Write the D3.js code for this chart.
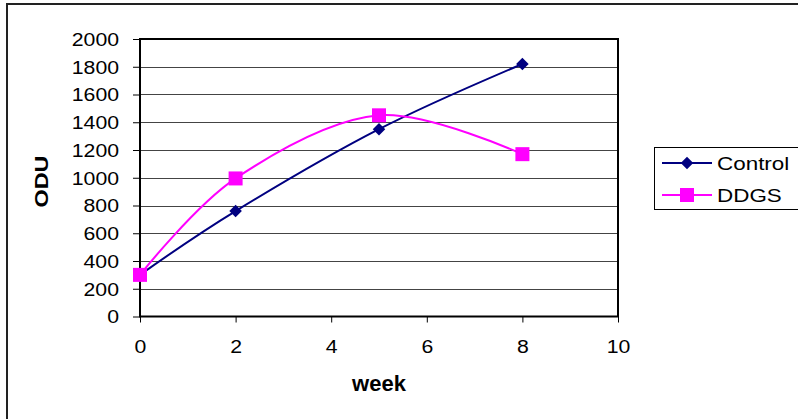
<!DOCTYPE html>
<html>
<head>
<meta charset="utf-8">
<script src="https://cdn.jsdelivr.net/npm/d3@7"></script>
<style>
  html, body { margin: 0; padding: 0; background: #fff; }
  svg { display: block; font-family: "Liberation Sans", Arial, sans-serif; }
</style>
</head>
<body>
<svg id="chart" width="798" height="419"></svg>
<script>
// Weeks sampled and ODU readings for each diet
const weeks = [0, 2, 5, 8];
const controlValues = [300, 760, 1350, 1820];
const ddgsValues = [300, 995, 1450, 1170];
const seriesNames = ["Control", "DDGS"];
const seriesColors = ["#000080", "#FF00FF"];
const xTicks = [0, 2, 4, 6, 8, 10];
const yTicks = [0, 200, 400, 600, 800, 1000, 1200, 1400, 1600, 1800, 2000];

const svg = d3.select("#chart");
const plot = { left: 140, top: 39, right: 618, bottom: 316.5 };
const FONT = "Liberation Sans, Arial, sans-serif";

const x = d3.scaleLinear().domain([0, 10]).range([plot.left, plot.right]);
const y = d3.scaleLinear().domain([0, 2000]).range([plot.bottom, plot.top]);

// widen text horizontally by a factor, keeping its anchor
function widen(sel, factor) {
  sel.each(function () {
    const w = this.getComputedTextLength();
    d3.select(this).attr("textLength", w * factor).attr("lengthAdjust", "spacingAndGlyphs");
  });
}

// outer chart frame (runs off the right and bottom edges)
svg.append("rect")
  .attr("x", 7).attr("y", 4).attr("width", 830).attr("height", 460)
  .attr("fill", "none").attr("stroke", "#222").attr("stroke-width", 2);

// horizontal gridlines
svg.append("g").selectAll("line").data(yTicks.filter(d => d > 0)).join("line")
  .attr("x1", plot.left).attr("x2", plot.right)
  .attr("y1", d => Math.round(y(d)) + 0.5).attr("y2", d => Math.round(y(d)) + 0.5)
  .attr("stroke", "#444").attr("stroke-width", 1);

// y axis
const yAxis = svg.append("g")
  .attr("transform", `translate(${plot.left},0)`)
  .call(d3.axisLeft(y).tickValues(yTicks).tickSize(7).tickPadding(14).tickFormat(d3.format("d")));
yAxis.select(".domain").remove();
yAxis.selectAll("line").attr("stroke", "#000");
yAxis.selectAll("text").attr("font-size", 18).attr("fill", "#000").attr("font-family", FONT)
  .attr("dy", "0.36em").call(widen, 1.18);

// x axis
const xAxis = svg.append("g")
  .attr("transform", `translate(0,${plot.bottom})`)
  .call(d3.axisBottom(x).tickValues(xTicks).tickSize(6).tickPadding(18).tickFormat(d3.format("d")));
xAxis.select(".domain").remove();
xAxis.selectAll("line").attr("stroke", "#000");
xAxis.selectAll("text").attr("font-size", 18).attr("fill", "#000").attr("font-family", FONT)
  .call(widen, 1.18);

// plot area border
svg.append("rect")
  .attr("x", plot.left).attr("y", plot.top)
  .attr("width", plot.right - plot.left).attr("height", plot.bottom - plot.top)
  .attr("fill", "none").attr("stroke", "#000").attr("stroke-width", 2);

// axis titles
svg.append("text").attr("x", x(5)).attr("y", 391)
  .attr("text-anchor", "middle").attr("font-size", 22).attr("font-weight", "bold")
  .text("week");
svg.append("text")
  .attr("transform", "translate(48,181.5) rotate(-90)")
  .attr("text-anchor", "middle").attr("font-size", 18).attr("font-weight", "bold")
  .text("ODU").call(widen, 1.3);

// smoothed series lines
const line = d3.line()
  .x(d => x(d[0])).y(d => y(d[1]))
  .curve(d3.curveCatmullRom.alpha(0));

const seriesData = [controlValues, ddgsValues].map(v => weeks.map((w, i) => [w, v[i]]));

const diamond = d3.symbol().type(d3.symbolDiamond2).size(100);

seriesData.forEach((pts, si) => {
  svg.append("path").datum(pts)
    .attr("d", line).attr("fill", "none")
    .attr("stroke", seriesColors[si]).attr("stroke-width", 2);
});

// markers
svg.append("g").selectAll("path").data(seriesData[0]).join("path")
  .attr("transform", d => `translate(${x(d[0])},${y(d[1])})`)
  .attr("d", diamond).attr("fill", seriesColors[0]);
svg.append("g").selectAll("rect").data(seriesData[1]).join("rect")
  .attr("x", d => x(d[0]) - 7).attr("y", d => y(d[1]) - 7)
  .attr("width", 14).attr("height", 14).attr("fill", seriesColors[1]);

// legend
const legend = svg.append("g");
legend.append("rect").attr("x", 654.5).attr("y", 147.5).attr("width", 160).attr("height", 62)
  .attr("fill", "#fff").attr("stroke", "#000").attr("stroke-width", 1);
seriesNames.forEach((name, i) => {
  const ly = 163 + i * 32;
  legend.append("line").attr("x1", 662).attr("x2", 712).attr("y1", ly).attr("y2", ly)
    .attr("stroke", seriesColors[i]).attr("stroke-width", 2);
  if (i === 0) {
    legend.append("path").attr("transform", `translate(687,${ly})`)
      .attr("d", diamond).attr("fill", seriesColors[i]);
  } else {
    legend.append("rect").attr("x", 680).attr("y", ly - 7).attr("width", 14).attr("height", 14)
      .attr("fill", seriesColors[i]);
  }
  legend.append("text").attr("x", 717).attr("y", ly + 6.5)
    .attr("font-size", 19).attr("fill", "#000").text(name).call(widen, 1.18);
});
</script>
</body>
</html>
